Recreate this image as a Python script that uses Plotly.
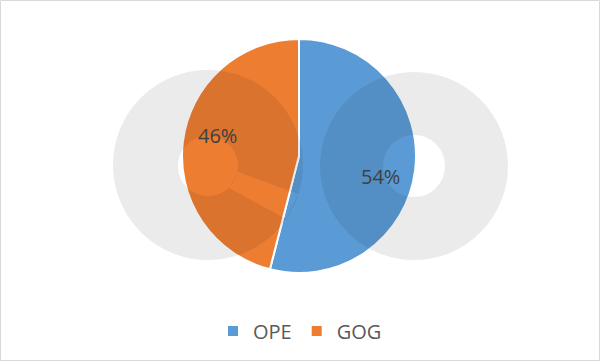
import numpy as np
import plotly.graph_objects as go

labels = ["OPE", "GOG"]
values = [54, 46]
colors = ["#5B9BD5", "#ED7D31"]

W, H = 600, 361
CX, CY, R = 299, 156, 117  # pie centre / radius in pixels (layout)

def px(x, y):
    return x / W, 1 - y / H

def circle_pts(cx, cy, r, a0, a1, n=90):
    a = np.linspace(np.radians(a0), np.radians(a1), n)
    return [(cx + r * np.cos(t), cy + r * np.sin(t)) for t in a]

def path_of(polys):
    s = ""
    for poly in polys:
        pts = [px(x, y) for x, y in poly]
        s += "M %.5f,%.5f " % pts[0] + " ".join("L %.5f,%.5f" % p for p in pts[1:]) + " Z "
    return s

fig = go.Figure(go.Pie(
    labels=labels, values=values, sort=False, direction="clockwise", rotation=0,
    marker=dict(colors=colors, line=dict(color="white", width=2)),
    textinfo="none",
    domain=dict(x=[(CX - R) / W, (CX + R) / W], y=[1 - (CY + R) / H, 1 - (CY - R) / H]),
    hoverinfo="skip",
))

# percentage labels placed near each slice's mid-angle (Excel best-fit style)
total = float(sum(values))
annotations = []
cum = 0.0
for v in values:
    mid = (cum + v / 2) / total * 2 * np.pi + np.radians(7)
    cum += v
    lx = CX + 0.72 * R * np.sin(mid)
    ly = CY - 0.72 * R * np.cos(mid)
    annotations.append(dict(
        x=lx / W, y=1 - ly / H, xref="paper", yref="paper", showarrow=False,
        text="%d%%" % round(v / total * 100),
        font=dict(family="Open Sans", size=20, color="#404040"),
        xanchor="center", yanchor="middle"))

wm = "rgba(0,0,0,0.08)"
# watermark "e"
e_outer = circle_pts(208, 165, 95, 0, 360, 180)
e_hole = circle_pts(208, 166, 30, 0, 360, 90)
e_open = [(238, 172), (298, 194), (286, 219), (229, 188)]
shapes = [
    dict(type="path", xref="paper", yref="paper", path=path_of([e_outer, e_hole, e_open]),
         fillrule="evenodd", fillcolor=wm, line=dict(width=0), layer="above"),
    # watermark "o"
    dict(type="circle", xref="paper", yref="paper",
         x0=(414 - 62.5) / W, x1=(414 + 62.5) / W, y0=1 - (166 + 62.5) / H, y1=1 - (166 - 62.5) / H,
         line=dict(color=wm, width=63), layer="above"),
    dict(type="rect", xref="paper", yref="paper", x0=0.5 / W, x1=1 - 0.5 / W, y0=0.5 / H, y1=1 - 0.5 / H,
         line=dict(color="#D9D9D9", width=1), layer="above"),
]

fig.update_layout(
    width=W, height=H, margin=dict(l=0, r=0, t=0, b=0),
    paper_bgcolor="white", plot_bgcolor="white",
    shapes=shapes, annotations=annotations,
    showlegend=True,
    legend=dict(orientation="h", x=0.5, xanchor="center", y=1 - 331 / H, yanchor="middle",
                font=dict(family="Open Sans", size=20, color="#595959"),
                itemwidth=30, traceorder="normal"),
)

fig.write_html("out.html", config={"displayModeBar": False},
               post_script="document.body.style.margin='0';document.body.style.padding='0';")
